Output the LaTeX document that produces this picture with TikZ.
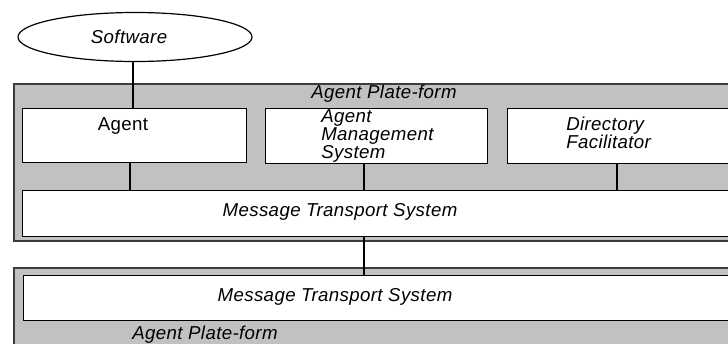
\documentclass[tikz,border=0pt]{standalone}
\usepackage{fontspec}
\setmainfont{Liberation Sans}[LetterSpace=2]
\usetikzlibrary{shapes.geometric}
\definecolor{platgray}{RGB}{194,193,194}
\definecolor{platline}{RGB}{60,60,60}
\tikzset{
  plat/.style={draw=platline, line width=1.3pt, fill=platgray, inner sep=0pt, anchor=north west},
  box/.style={draw=black, line width=1.1pt, fill=white, inner sep=0pt, anchor=north west},
  lbl/.style={inner sep=0pt, font=\fontsize{14}{13.3}\selectfont\itshape},
  ulbl/.style={inner sep=0pt, font=\fontsize{14}{13.3}\selectfont},
  conn/.style={draw=black, line width=1.1pt}
}
\begin{document}
\begin{tikzpicture}[x=0.75pt,y=-0.75pt]
\useasboundingbox (0,0) rectangle (728,343);
\clip (0,0) rectangle (728,343);
% platforms
\node[plat, minimum width=549pt, minimum height=117.75pt] (p1) at (13,83) {};
\node[plat, minimum width=549pt, minimum height=67.5pt] (p2) at (13,267) {};
% software
\node[ellipse, draw=black, line width=0.9pt, fill=white, minimum width=175.5pt, minimum height=36.75pt, inner sep=0pt] (sw) at (135,37) {};
\node[lbl] (swlbl) at (129,37) {Software};
% boxes
\node[box, minimum width=168pt, minimum height=40.5pt] (agent) at (22,108) {};
\node[box, minimum width=166.5pt, minimum height=41.25pt] (ams) at (265,108) {};
\node[box, minimum width=187.5pt, minimum height=41.25pt] (df) at (507,108) {};
\node[box, minimum width=547.5pt, minimum height=34.5pt] (mts1) at (22,190) {};
\node[box, minimum width=547.5pt, minimum height=33.75pt] (mts2) at (23,275) {};
% labels
\node[lbl] (p1lbl) at (384,94) {Agent Plate-form};
\node[ulbl] (agentlbl) at (123,126) {Agent};
\node[lbl, align=left, anchor=west] (amslbl) at (321,136) {Agent\\Management\\System};
\node[lbl, align=left, anchor=west] (dflbl) at (566,133) {Directory\\Facilitator};
\node[lbl] (mts1lbl) at (340,212) {Message Transport System};
\node[lbl] (mts2lbl) at (335,297) {Message Transport System};
\node[lbl] (p2lbl) at (205,335) {Agent Plate-form};
% connector positions
\coordinate (xsw) at (133,0);
\coordinate (xag) at (130,0);
\coordinate (xams) at (364,0);
\coordinate (xdf) at (617,0);
% connectors
\draw[conn] (sw.south -| xsw) -- (agent.north -| xsw);
\draw[conn] (agent.south -| xag) -- (mts1.north -| xag);
\draw[conn] (ams.south -| xams) -- (mts1.north -| xams);
\draw[conn] (df.south -| xdf) -- (mts1.north -| xdf);
\draw[conn] (mts1.south -| xams) -- (mts2.north -| xams);
\end{tikzpicture}
\end{document}
